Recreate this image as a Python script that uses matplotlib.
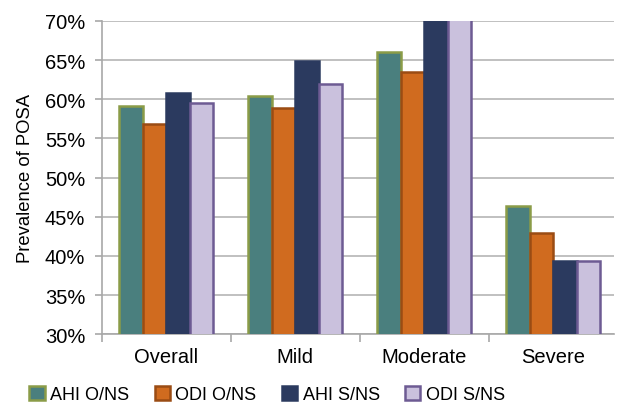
import numpy as np
import matplotlib.pyplot as plt
from matplotlib.ticker import FuncFormatter, MultipleLocator

plt.rcParams['font.family'] = ['Liberation Sans', 'DejaVu Sans']

categories = ['Overall', 'Mild', 'Moderate', 'Severe']
series = ['AHI O/NS', 'ODI O/NS', 'AHI S/NS', 'ODI S/NS']
ahi_ons = [59.2, 60.4, 66.0, 46.4]
odi_ons = [56.9, 58.9, 63.5, 42.9]
ahi_sns = [60.8, 64.9, 72.0, 39.3]
odi_sns = [59.5, 61.9, 73.0, 39.4]
values = [ahi_ons, odi_ons, ahi_sns, odi_sns]

fills = ['#4a7f7e', '#d06b1f', '#2b3a5f', '#cac1dd']
edges = ['#8b9c48', '#9a4c14', '#2b3a5f', '#6d5b93']

fig = plt.figure(figsize=(6.17, 4.14), dpi=100)
ax = fig.add_axes([0.165, 0.19, 0.83, 0.757])

x = np.arange(len(categories))
w = 0.182
for i in range(4):
    ax.bar(x + (i - 1.5) * w, values[i], width=w, bottom=0, color=fills[i],
           edgecolor=edges[i], linewidth=1.8, label=series[i], zorder=3)

ax.set_ylim(30, 70)
ax.set_xlim(-0.5, 3.47)
ax.yaxis.set_major_locator(MultipleLocator(5))
ax.yaxis.set_major_formatter(FuncFormatter(lambda v, p: '%d%%' % v))
ax.grid(axis='y', color='#c0c0c0', linewidth=1.4, zorder=0)
ax.set_xticks(x)
ax.set_xticklabels(categories)
ax.set_xticks(np.arange(-0.5, 3.0, 1.0), minor=True)
ax.tick_params(axis='x', which='major', length=0, labelsize=14.5, pad=9)
ax.tick_params(axis='x', which='minor', length=6, color='#a8a8a8', width=1.2)
ax.tick_params(axis='y', length=5, color='#a8a8a8', width=1.2, labelsize=14.5, pad=7)
for s in ['top', 'right']:
    ax.spines[s].set_visible(False)
for s in ['left', 'bottom']:
    ax.spines[s].set_color('#a8a8a8')
    ax.spines[s].set_linewidth(1.2)
ax.set_ylabel('Prevalence of POSA', fontsize=13.3, labelpad=8)

fig.legend(loc='lower center', bbox_to_anchor=(0.433, -0.015), ncol=4, frameon=False,
           fontsize=13, handlelength=0.85, handleheight=0.85, handletextpad=0.3,
           columnspacing=1.4)

plt.savefig('out.png', dpi=100)
